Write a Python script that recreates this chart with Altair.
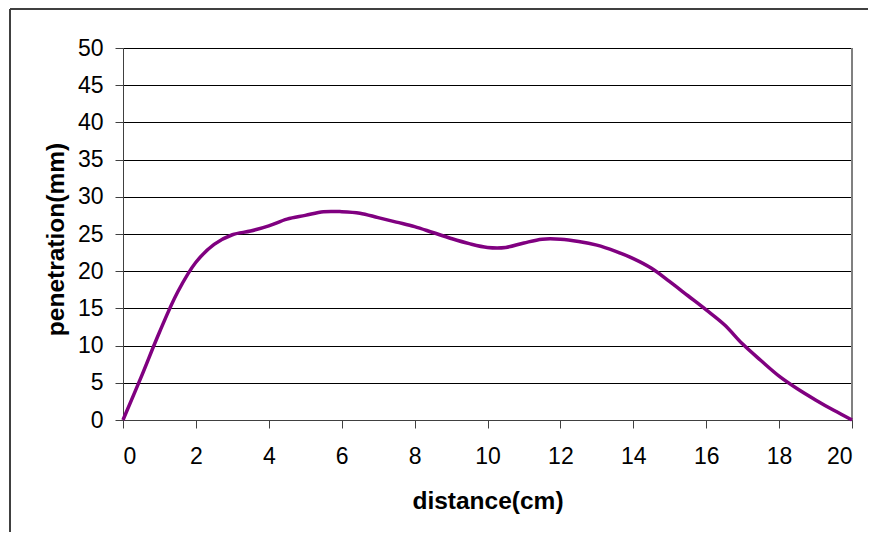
import altair as alt
import pandas as pd

distance = [0, 0.5, 1, 1.5, 2, 2.5, 3, 3.5, 4, 4.5, 5, 5.5, 6, 6.5, 7, 7.5, 8, 8.5, 9, 9.5,
            10, 10.5, 11, 11.5, 12, 12.5, 13, 13.5, 14, 14.5, 15, 15.5, 16, 16.5, 17, 17.5,
            18, 18.5, 19, 19.5, 20]
penetration = [0, 5.8, 11.8, 17.2, 21.2, 23.6, 24.9, 25.4, 26.1, 27.0, 27.5, 28.0, 28.0, 27.8,
               27.2, 26.6, 26.0, 25.2, 24.4, 23.7, 23.2, 23.2, 23.8, 24.3, 24.3, 24.0, 23.5,
               22.7, 21.7, 20.4, 18.6, 16.7, 14.8, 12.8, 10.2, 8.0, 5.9, 4.2, 2.7, 1.3, 0]
x_ticks = [0, 2, 4, 6, 8, 10, 12, 14, 16, 18, 20]
y_ticks = [0, 5, 10, 15, 20, 25, 30, 35, 40, 45, 50]

df = pd.DataFrame({"distance": distance, "penetration": penetration})

FONT = "Liberation Sans"

right_edge = alt.Chart(df).mark_rule(
    stroke="#808080", strokeWidth=1
).encode(x=alt.value(729), y=alt.value(0), y2=alt.value(372))

line = alt.Chart(df).mark_line(
    color="#800080", strokeWidth=3.5, interpolate="catmull-rom"
).encode(
    x=alt.X("distance:Q", scale=alt.Scale(domain=[0, 20], nice=False),
            axis=alt.Axis(values=x_ticks, title="distance(cm)", grid=False,
                          domainColor="#404040", tickColor="#404040", tickSize=8,
                          labelFontSize=23, labelFont=FONT, labelColor="#000",
                          labelBaseline="alphabetic", labelPadding=35,
                          titleFont=FONT, titleFontSize=24.5,
                          titleFontWeight="bold", titleColor="#000",
                          titleBaseline="alphabetic", titleY=88)),
    y=alt.Y("penetration:Q", scale=alt.Scale(domain=[0, 50], nice=False),
            axis=alt.Axis(values=y_ticks, title="penetration(mm)", grid=True,
                          gridColor="#000", gridWidth=1,
                          domainColor="#404040", tickColor="#404040", tickSize=8,
                          labelFontSize=23, labelFont=FONT, labelColor="#000",
                          labelPadding=12, titleFont=FONT, titleFontSize=24.5,
                          titleFontWeight="bold", titleColor="#000",
                          titleBaseline="alphabetic", titleX=-60, titleY=191)),
)

frame_left = alt.Chart(df).mark_rule(
    stroke="#404040", strokeWidth=2, clip=False
).encode(x=alt.value(-113), y=alt.value(-39), y2=alt.value(600))

frame_top = alt.Chart(df).mark_rule(
    stroke="#404040", strokeWidth=2, clip=False
).encode(x=alt.value(-113), x2=alt.value(900), y=alt.value(-39))

chart = alt.layer(right_edge, line, frame_left, frame_top).properties(
    width=729, height=372,
    autosize=alt.AutoSizeParams(type="none"),
    padding={"left": 115, "top": 40, "right": 16, "bottom": 112},
).configure_view(strokeWidth=0).configure(background="white")

chart.save("out.html", embed_options={"renderer": "svg", "actions": False})
